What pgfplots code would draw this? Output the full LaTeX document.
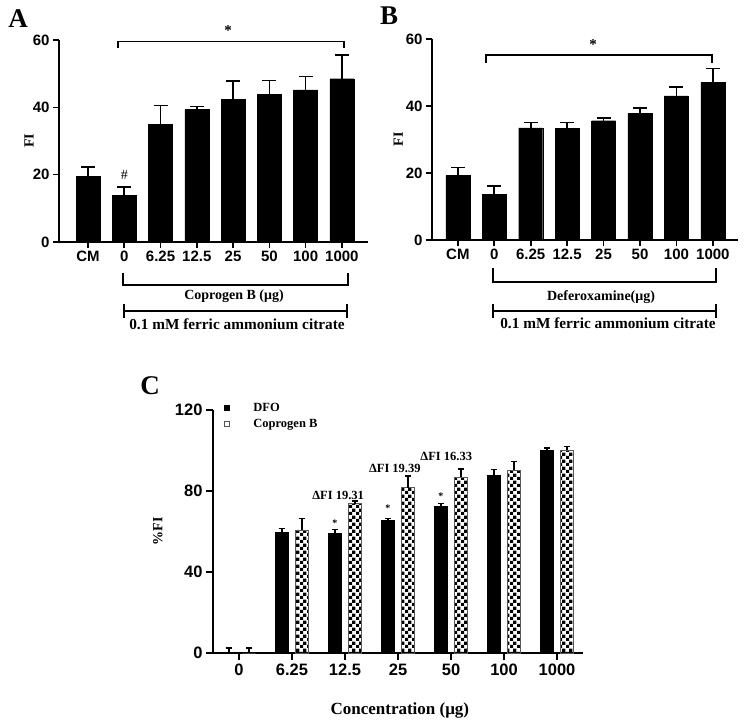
\documentclass[border=0pt]{standalone}
\usepackage{pgfplots}
\pgfplotsset{compat=1.18}
\usepackage{pgfplotstable}
\usepackage{fontspec}
\setmainfont{Liberation Serif}
\setsansfont{Liberation Sans}
\usetikzlibrary{patterns}
\pgfdeclarepatternformonly{bigcheck}{\pgfpointorigin}{\pgfqpoint{6.6pt}{6.6pt}}{\pgfqpoint{6.6pt}{6.6pt}}{%
 \pgfpathrectangle{\pgfpointorigin}{\pgfqpoint{3.35pt}{3.35pt}}%
 \pgfpathrectangle{\pgfqpoint{3.3pt}{3.3pt}}{\pgfqpoint{3.35pt}{3.35pt}}%
 \pgfusepath{fill}}

\pgfplotstableread{
x y e
0 19.4 2.9
1 13.8 2.5
2 35.0 5.5
3 39.3 1.0
4 42.3 5.5
5 43.8 4.2
6 45.2 4.0
7 48.5 7.0
}\dataA
\pgfplotstableread{
x y e
0 19.3 2.3
1 13.6 2.6
2 33.5 1.6
3 33.4 1.7
4 35.6 0.9
5 37.8 1.6
6 43.0 2.6
7 47.0 4.2
}\dataB
\pgfplotstableread{
x y e
0 0.0 2.5
1 59.6 1.9
2 59.1 1.9
3 65.5 1.0
4 72.3 1.6
5 87.8 2.7
6 100.0 1.2
}\dataDFO
\pgfplotstableread{
x y e
0 0.0 2.5
1 60.8 5.7
2 73.8 1.2
3 81.7 5.8
4 86.7 4.1
5 90.3 4.2
6 100.0 2.0
}\dataCop

\pgfplotsset{
  panel/.style={
    scale only axis, clip=false,
    axis lines=left,
    axis line style={line width=1.6pt,-},
    tick style={line width=1.6pt,black},
    tick align=outside,
    major tick length=6pt,
    /pgf/number format/assume math mode=true,
    ymin=0,
  },
}

\begin{document}
\begin{tikzpicture}[x=1pt,y=1pt]
\path[use as bounding box] (0,0) rectangle (751,727);

% ---------------- Panel A ----------------
\begin{axis}[panel,
  at={(59pt,485pt)}, anchor=south west,
  width=309pt, height=202pt,
  xmin=-0.80, xmax=7.72, ymax=60,
  xtick={0,...,7}, xticklabels={CM,0,6.25,12.5,25,50,100,1000},
  ytick={0,20,40,60},
  tick label style={font=\sffamily\bfseries\fontsize{15}{15}\selectfont},
  ylabel={FI},
  ylabel style={at={(axis description cs:-0.097,0.5)}, anchor=center, font=\bfseries\fontsize{14}{14}\selectfont},
]
\addplot[ybar, bar width=0.66, bar shift=0pt, fill=black, draw=black,
  error bars/.cd, y dir=plus, y explicit, error mark=-,
  error bar style={line width=1.6pt, black},
  error mark options={rotate=90, line width=1.6pt, mark size=7pt, black}]
  table[x=x, y=y, y error=e]{\dataA};
\draw[line width=1.6pt] (axis cs:0.83,57.6) -- (axis cs:0.83,59.6) -- (axis cs:7.05,59.6) -- (axis cs:7.05,57.6);
\node[font=\bfseries\fontsize{15}{15}\selectfont] at (axis cs:3.86,62.9) {*};
\node[font=\fontsize{14}{14}\selectfont] at (axis cs:1,19.9) {\#};
\end{axis}

% ---------------- Panel B ----------------
\begin{axis}[panel,
  at={(432pt,487pt)}, anchor=south west,
  width=306pt, height=201pt,
  xmin=-0.71, xmax=7.69, ymax=60,
  xtick={0,...,7}, xticklabels={CM,0,6.25,12.5,25,50,100,1000},
  ytick={0,20,40,60},
  tick label style={font=\sffamily\bfseries\fontsize{15}{15}\selectfont},
  ylabel={FI},
  ylabel style={at={(axis description cs:-0.11,0.5)}, anchor=center, font=\bfseries\fontsize{14}{14}\selectfont},
]
\addplot[ybar, bar width=0.66, bar shift=0pt, fill=black, draw=black,
  error bars/.cd, y dir=plus, y explicit, error mark=-,
  error bar style={line width=1.6pt, black},
  error mark options={rotate=90, line width=1.6pt, mark size=7pt, black}]
  table[x=x, y=y, y error=e]{\dataB};
\draw[line width=1.6pt] (axis cs:0.77,52.8) -- (axis cs:0.77,55.2) -- (axis cs:6.98,55.2) -- (axis cs:6.98,52.8);
\node[font=\bfseries\fontsize{15}{15}\selectfont] at (axis cs:3.71,58.2) {*};
\end{axis}

% ---------------- Panel C ----------------
\begin{axis}[panel,
  at={(213pt,74pt)}, anchor=south west,
  width=370pt, height=243pt,
  xmin=-0.49, xmax=6.49, ymax=120,
  xtick={0,...,6}, xticklabels={0,6.25,12.5,25,50,100,1000},
  ytick={0,40,80,120},
  major tick length=7pt,
  tick label style={font=\sffamily\bfseries\fontsize{16.5}{17}\selectfont},
  ylabel={\%FI},
  ylabel style={at={(axis description cs:-0.149,0.5)}, anchor=center, font=\bfseries\fontsize{14}{14}\selectfont},
  xlabel={Concentration (μg)},
  xlabel style={at={(axis description cs:0.505,-0.235)}, anchor=center, font=\bfseries\fontsize{17}{18}\selectfont},
  legend style={draw=none, fill=none, at={(axis description cs:0.02,1.045)}, anchor=north west,
    font=\bfseries\fontsize{12.5}{13}\selectfont, row sep=2pt,
    /tikz/every odd column/.append style={column sep=22pt}},
  legend cell align=left,
]
\addplot[ybar, bar width=0.25, bar shift=0pt, fill=black, draw=black, line width=0.5pt,
  legend image code/.code={\draw[line width=0.6pt, fill=black] (0pt,-2.6pt) rectangle (5.2pt,2.6pt);},
  error bars/.cd, y dir=plus, y explicit, error mark=-,
  error bar style={line width=1.4pt, black},
  error mark options={rotate=90, line width=1.4pt, mark size=3.2pt, black}]
  table[x expr=\thisrow{x}-0.19, y=y, y error=e]{\dataDFO};
\addlegendentry{DFO}
\addplot[ybar, bar width=0.25, bar shift=0pt, pattern=bigcheck, pattern color=black, draw=gray!70!black, line width=0.5pt,
  legend image code/.code={\draw[line width=0.6pt, fill=white] (0pt,-2.6pt) rectangle (5.2pt,2.6pt);},
  error bars/.cd, y dir=plus, y explicit, error mark=-,
  error bar style={line width=1.4pt, black},
  error mark options={rotate=90, line width=1.4pt, mark size=3.2pt, black}]
  table[x expr=\thisrow{x}+0.19, y=y, y error=e]{\dataCop};
\addlegendentry{Coprogen B}
\node[font=\bfseries\fontsize{10}{10}\selectfont] at (axis cs:1.81,64.2) {*};
\node[font=\bfseries\fontsize{10}{10}\selectfont] at (axis cs:2.81,71.6) {*};
\node[font=\bfseries\fontsize{10}{10}\selectfont] at (axis cs:3.81,77.5) {*};
\node[font=\bfseries\fontsize{12.5}{13}\selectfont] at (axis cs:1.87,77.8) {ΔFI 19.31};
\node[font=\bfseries\fontsize{12.5}{13}\selectfont] at (axis cs:2.94,91.3) {ΔFI 19.39};
\node[font=\bfseries\fontsize{12.5}{13}\selectfont] at (axis cs:3.91,97.0) {ΔFI 16.33};
\end{axis}

% ---------------- annotations below A and B ----------------
\draw[line width=1.6pt] (123,454) -- (123,442) -- (348,442) -- (348,454);
\node[font=\bfseries\fontsize{14}{14}\selectfont] at (234,431) {Coprogen B (μg)};
\draw[line width=1.6pt] (124,416) -- (347,416);
\draw[line width=1.6pt] (124,409) -- (124,423);
\draw[line width=1.6pt] (347,409) -- (347,423);
\node[font=\bfseries\fontsize{15.3}{15.3}\selectfont] at (237,403) {0.1 mM ferric ammonium citrate};

\draw[line width=1.6pt] (493,459) -- (493,445) -- (716,445) -- (716,459);
\node[font=\bfseries\fontsize{14}{14}\selectfont] at (601,430) {Deferoxamine(μg)};
\draw[line width=1.6pt] (493,416) -- (716,416);
\draw[line width=1.6pt] (493,409) -- (493,423);
\draw[line width=1.6pt] (716,409) -- (716,423);
\node[font=\bfseries\fontsize{15.3}{15.3}\selectfont] at (608,404) {0.1 mM ferric ammonium citrate};

% panel letters
\node[font=\bfseries\fontsize{27}{27}\selectfont] at (18,708) {A};
\node[font=\bfseries\fontsize{27}{27}\selectfont] at (389,711) {B};
\node[font=\bfseries\fontsize{27}{27}\selectfont] at (150,341) {C};
\end{tikzpicture}
\end{document}
